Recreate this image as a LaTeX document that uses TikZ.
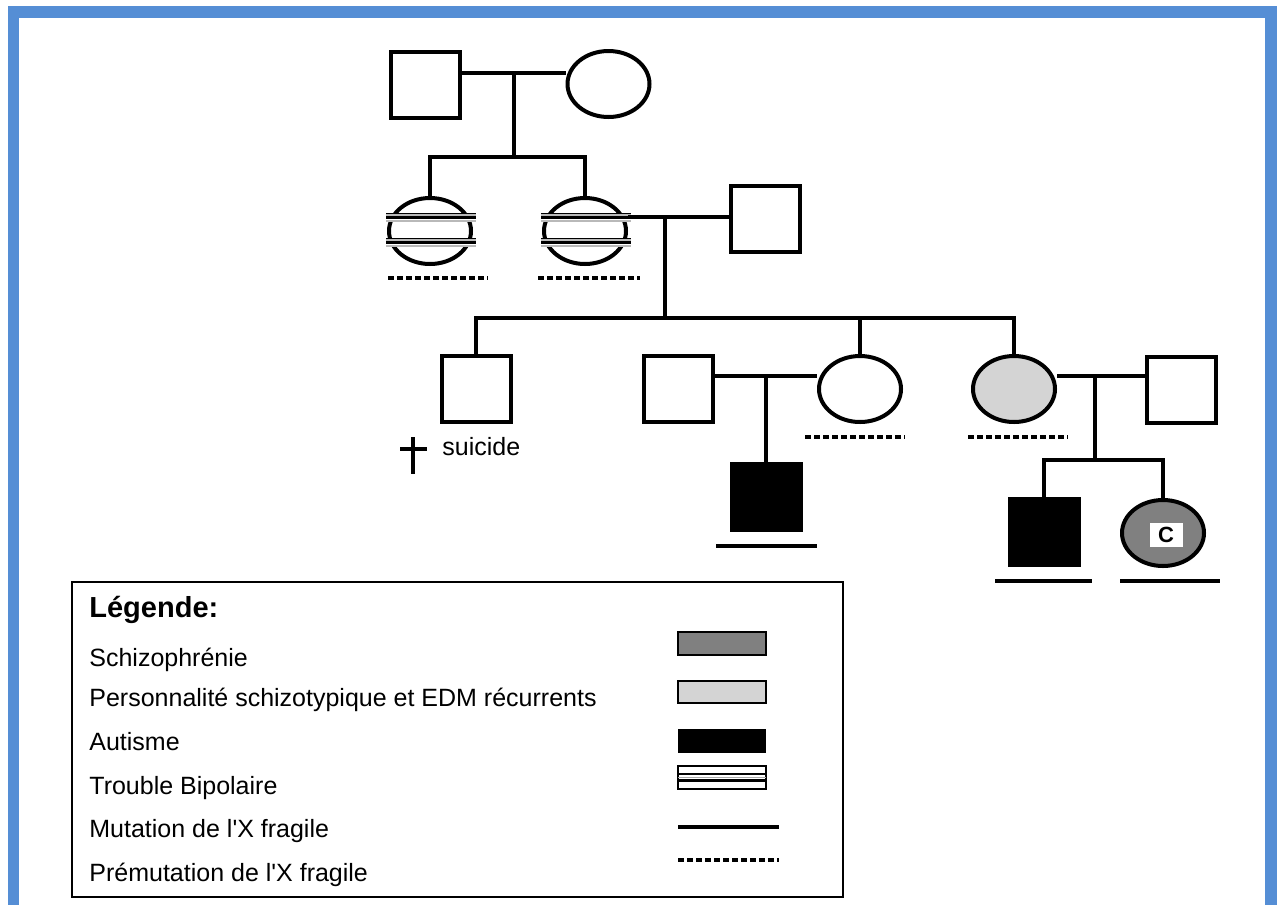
\documentclass[tikz,border=0pt]{standalone}
\usepackage{fontspec}
\setmainfont{Liberation Sans}[Ligatures=TeXOff]
\usetikzlibrary{shapes.geometric}

\definecolor{bordbleu}{RGB}{85,142,213}
\definecolor{grisschizo}{RGB}{128,128,128}
\definecolor{grisclair}{RGB}{212,212,212}

% bandes du trouble bipolaire sur un symbole
\newcommand{\bandes}[1]{%
  \foreach \dy in {-14,11} {
    \fill[gray!55] ([shift={(-44,\dy-4.5)}]#1.center) rectangle ++(90,9);
    \draw[line width=0.7pt] ([shift={(-44,\dy-3.5)}]#1.center) -- ++(90,0);
    \draw[line width=1.5pt] ([shift={(-44,\dy)}]#1.center) -- ++(90,0);
    \draw[white,line width=0.5pt] ([shift={(-44,\dy+2.5)}]#1.center) -- ++(90,0);
  }}

\begin{document}
\begin{tikzpicture}[x=0.5pt,y=-0.5pt,
    homme/.style={draw,line width=2pt,minimum width=34.5pt,minimum height=33pt,inner sep=0pt},
    femme/.style={ellipse,draw,line width=2pt,minimum width=41pt,minimum height=33pt,inner sep=0pt},
    lien/.style={line width=1.8pt},
    mutation/.style={line width=2pt},
    premutation/.style={line width=1.8pt,dash pattern=on 3pt off 1.5pt},
    texte/.style={anchor=base west,inner sep=0pt,font=\fontsize{12.5}{15}\selectfont}]

    \useasboundingbox (0,0) rectangle (1279,905);
    % cadre bleu
    \fill[bordbleu] (8,6) rectangle (1277,18);
    \fill[bordbleu] (8,6) rectangle (19,905);
    \fill[bordbleu] (1265,6) rectangle (1277,905);

    % generation I
    \node[homme] (grandpere) at (425.5,85) {};
    \node[femme] (grandmere) at (608.5,84) {};
    \coordinate (u1) at (514,73);
    \coordinate (f1) at (514,157);
    \draw[lien] (grandpere.east |- u1) -- (grandmere.west |- u1);
    \draw[lien] (u1) -- (f1);

    % generation II
    \node[femme] (tante) at (430,231) {};
    \node[femme] (mere) at (585,231) {};
    \node[homme] (pere) at (765,219) {};
    \bandes{tante}
    \bandes{mere}
    \draw[lien] (tante.north) |- (f1) -| (mere.north);
    \coordinate (u2) at (665,217);
    \coordinate (f2) at (665,318);
    \draw[lien] (mere.east |- u2) -- (pere.west |- u2);
    \draw[lien] (u2) -- (f2);
    \draw[premutation] ([shift={(-42,47)}]tante.center) -- ++(100,0);
    \draw[premutation] ([shift={(-47,47)}]mere.center) -- ++(102,0);

    % generation III
    \node[homme] (frere) at (476,389) {};
    \node[homme] (conjoint1) at (678,389) {};
    \node[femme] (soeur1) at (860,389) {};
    \node[femme,fill=grisclair] (soeur2) at (1014,389) {};
    \node[homme] (conjoint2) at (1181,390) {};
    \draw[lien] (frere.north) |- (f2) -| (soeur2.north);
    \draw[lien] (soeur1.north) -- (soeur1.north |- f2);
    \coordinate (u3) at (766,376);
    \coordinate (u4) at (1095,376);
    \coordinate (f3) at (1095,460);
    \draw[lien] (conjoint1.east |- u3) -- (soeur1.west |- u3);
    \draw[lien] (soeur2.east |- u4) -- (conjoint2.west |- u4);
    \draw[lien] (u4) -- (f3);
    \draw[premutation] ([shift={(-55,48)}]soeur1.center) -- ++(100,0);
    \draw[premutation] ([shift={(-46,48)}]soeur2.center) -- ++(100,0);

    % suicide
    \draw[line width=2.2pt] (413,437) -- (413,474) (400,449) -- (427,449);
    \node[texte] (suicide) at (442,455) {suicide};

    % generation IV
    \node[homme,fill=black] (autiste1) at (766,497) {};
    \node[homme,fill=black] (autiste2) at (1044,532) {};
    \node[femme,fill=grisschizo] (schizo) at (1163,533) {};
    \node[fill=white,inner sep=0pt,minimum width=16.5pt,minimum height=12pt,
      font=\bfseries\fontsize{11}{12}\selectfont] (c) at (1166,535) {C};
    \draw[lien] (u3) -- (autiste1.north);
    \draw[lien] (autiste2.north) |- (f3) -| (schizo.north);
    \draw[mutation] ([shift={(-50,49)}]autiste1.center) -- ++(101,0);
    \draw[mutation] ([shift={(-49,49)}]autiste2.center) -- ++(97,0);
    \draw[mutation] ([shift={(-43,48)}]schizo.center) -- ++(100,0);

    % legende
    \draw[line width=1pt] (72,582) rectangle (843,897);
    \node[texte,font=\bfseries\fontsize{14.5}{17}\selectfont] (titre) at (89,617) {Légende:};
    \node[texte] (l1) at (89,666) {Schizophrénie};
    \node[texte] (l2) at (89,706) {Personnalité schizotypique et EDM récurrents};
    \node[texte] (l3) at (89,750) {Autisme};
    \node[texte] (l4) at (89,794) {Trouble Bipolaire};
    \node[texte] (l5) at (89,837) {Mutation de l'X fragile};
    \node[texte] (l6) at (89,881) {Prémutation de l'X fragile};

    \draw[line width=1pt,fill=grisschizo] (678,632) rectangle (766,655);
    \draw[line width=1pt,fill=grisclair] (678,681) rectangle (766,703);
    \fill (678,729) rectangle (766,753);
    \draw[line width=1pt] (678,766) rectangle (766,789);
    \draw[line width=1.2pt] (678,774) -- (766,774) (678,780.5) -- (766,780.5);
    \draw[gray!70,line width=0.6pt] (678,777.5) -- (766,777.5);
    \draw[mutation] (678,827) -- (779,827);
    \draw[premutation] (678,860) -- (779,860);
\end{tikzpicture}
\end{document}
